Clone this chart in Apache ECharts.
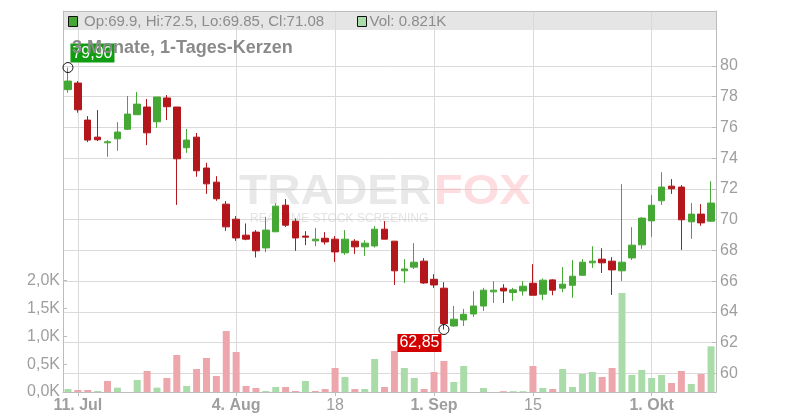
<!DOCTYPE html>
<html><head><meta charset="utf-8">
<script src="https://cdn.jsdelivr.net/npm/echarts@6/dist/echarts.min.js"></script>
<style>html,body{margin:0;padding:0;background:#fff}#c{width:800px;height:420px}</style>
</head><body><div id="c"></div>
<script>
const dates = ['2025-07-10','2025-07-11','2025-07-14','2025-07-15','2025-07-16','2025-07-17','2025-07-18','2025-07-21','2025-07-22','2025-07-23','2025-07-24','2025-07-25','2025-07-28','2025-07-29','2025-07-30','2025-07-31','2025-08-01','2025-08-04','2025-08-05','2025-08-06','2025-08-07','2025-08-08','2025-08-11','2025-08-12','2025-08-13','2025-08-14','2025-08-15','2025-08-18','2025-08-19','2025-08-20','2025-08-21','2025-08-22','2025-08-25','2025-08-26','2025-08-27','2025-08-28','2025-08-29','2025-09-01','2025-09-02','2025-09-03','2025-09-04','2025-09-05','2025-09-08','2025-09-09','2025-09-10','2025-09-11','2025-09-12','2025-09-15','2025-09-16','2025-09-17','2025-09-18','2025-09-19','2025-09-22','2025-09-23','2025-09-24','2025-09-25','2025-09-26','2025-09-29','2025-09-30','2025-10-01','2025-10-02','2025-10-03','2025-10-06','2025-10-07','2025-10-08','2025-10-09'];
const opens = [78.46,78.89,76.48,75.37,75.00,75.26,75.88,76.83,77.33,76.37,77.92,77.33,74.68,75.37,73.36,72.44,71.01,70.03,68.99,69.19,68.16,69.21,70.94,69.90,68.93,68.62,68.79,68.73,67.84,68.60,68.23,68.29,69.38,68.60,66.67,66.91,67.30,66.12,65.54,63.08,63.47,63.86,64.38,65.30,65.54,65.26,65.36,65.86,65.15,66.08,65.54,65.73,66.38,67.19,67.43,67.30,66.67,67.51,68.36,69.92,71.23,72.18,72.12,69.86,70.36,69.90];
const closes = [79.02,77.15,75.18,75.20,75.07,75.70,76.87,77.52,75.65,77.98,77.35,73.96,75.18,73.18,72.33,71.36,69.53,68.81,68.73,67.97,69.32,70.88,69.64,68.81,68.86,68.73,68.55,67.90,68.73,68.23,68.47,69.38,68.73,66.67,66.79,67.23,65.88,65.75,63.24,63.52,63.84,64.38,65.41,65.41,65.36,65.43,65.67,65.08,66.06,65.41,65.80,66.32,67.23,67.30,67.19,66.73,67.23,68.34,70.10,70.94,72.12,72.01,69.99,70.36,69.79,71.08];
const lows = [78.26,76.96,75.05,75.11,74.09,74.48,75.83,76.83,74.85,75.98,76.48,70.96,74.35,72.79,71.68,71.23,69.27,68.62,68.66,67.54,67.88,69.21,69.53,67.97,68.34,68.27,68.38,67.25,67.71,67.77,67.64,68.19,68.73,65.75,65.88,66.79,65.82,65.56,62.85,63.02,63.08,63.67,64.06,64.58,64.58,64.71,65.06,65.08,64.76,65.08,65.28,64.91,66.38,66.86,66.53,65.10,66.01,67.38,68.10,68.88,70.96,71.68,68.03,68.75,69.60,69.85];
const highs = [79.90,79.02,76.74,77.13,75.18,76.35,78.05,78.31,77.85,77.98,78.11,77.33,75.90,75.64,73.70,72.83,71.21,70.23,69.75,69.32,70.18,71.06,71.34,70.08,69.25,69.45,69.19,68.93,69.32,68.73,68.66,69.58,69.90,68.60,67.43,68.47,67.49,66.45,65.93,64.38,64.19,65.34,65.56,65.99,65.80,65.56,65.99,67.10,66.17,66.12,66.91,67.36,67.43,68.27,68.14,67.56,72.31,69.51,70.16,71.60,73.09,72.64,72.25,71.08,71.01,72.50];
const volumes = [54,36,36,18,198,78,0,216,377,78,252,665,108,413,611,288,1096,719,108,72,18,90,90,18,198,18,54,431,270,54,54,593,90,737,431,252,54,359,557,180,467,0,72,0,15,15,15,467,72,54,413,90,323,359,270,431,1779,305,395,252,305,162,377,144,323,821];
const tickDates = ['2025-07-11','2025-08-04','2025-08-18','2025-09-01','2025-09-15','2025-10-01'];
const tickLabels = ['11. Jul','4. Aug','18','1. Sep','15','1. Okt'];
const tickBold = [true,true,false,true,false,true];
const priceTicks = {min:60, max:80, step:2};
const volTicks = {min:0, max:2000, step:500};
const headerOHLC = 'Op:69.9, Hi:72.5, Lo:69.85, Cl:71.08';
const headerVol = 'Vol: 0.821K';
const titleText = '3 Monate, 1-Tages-Kerzen';
const maxLabel = '79,90', minLabel = '62,85';

const FONT = "'Liberation Sans', Arial, sans-serif";
const upC = '#46a834', downC = '#b3161b', volUp = '#aadcaa', volDown = '#eea6ad';
const gridC = '#dadada', axisC = '#bdbdbd', txtC = '#9e9e9e';
const L = 63, R = 84;

const candleData = dates.map((d, i) => [opens[i], closes[i], lows[i], highs[i]]);
const volData = volumes.map((v, i) => ({
  value: v,
  itemStyle: { color: (i === 0 || closes[i] >= closes[i - 1]) ? volUp : volDown }
}));
let maxI = 0, minI = 0;
highs.forEach((h, i) => { if (h > highs[maxI]) maxI = i; });
lows.forEach((l, i) => { if (l < lows[minI]) minI = i; });
const isTick = (idx, val) => tickDates.indexOf(val) >= 0;

const chart = echarts.init(document.getElementById('c'));
chart.setOption({
  animation: false,
  backgroundColor: '#fff',
  textStyle: { fontFamily: FONT },
  title: {
    text: titleText, left: 72, top: 39, padding: 0,
    textStyle: { fontSize: 18, fontWeight: 'bold', color: '#8a8a8a', fontFamily: FONT }
  },
  grid: [
    { left: L, right: R, top: 11, bottom: 28 },
    { left: L, right: R, top: 66, bottom: 46.7 },
    { left: L, right: R, top: 280.7, bottom: 28 }
  ],
  xAxis: [
    {
      gridIndex: 0, type: 'category', data: dates, boundaryGap: true,
      axisLine: { show: true, lineStyle: { color: axisC } },
      axisTick: { show: true, alignWithLabel: true, interval: isTick, length: 4, lineStyle: { color: axisC } },
      axisLabel: {
        interval: isTick, margin: 6, color: txtC, fontSize: 16, fontFamily: FONT,
        formatter: (v) => {
          const k = tickDates.indexOf(v);
          if (k < 0) return '';
          return tickBold[k] ? '{b|' + tickLabels[k] + '}' : '{n|' + tickLabels[k] + '}';
        },
        rich: {
          b: { fontWeight: 'bold', fontSize: 16, color: txtC, fontFamily: FONT },
          n: { fontWeight: 'normal', fontSize: 16, color: txtC, fontFamily: FONT }
        }
      },
      splitLine: { show: true, interval: isTick, alignWithLabel: true, lineStyle: { color: gridC, width: 1 } }
    },
    { gridIndex: 1, type: 'category', data: dates, boundaryGap: true, show: false },
    { gridIndex: 2, type: 'category', data: dates, boundaryGap: true, show: false }
  ],
  yAxis: [
    { gridIndex: 0, type: 'value', position: 'left', min: 0, max: 1,
      axisLine: { show: true, lineStyle: { color: axisC } }, axisTick: { show: false }, axisLabel: { show: false }, splitLine: { show: false } },
    { gridIndex: 0, type: 'value', position: 'right', min: 0, max: 1,
      axisLine: { show: true, lineStyle: { color: axisC } }, axisTick: { show: false }, axisLabel: { show: false }, splitLine: { show: false } },
    { gridIndex: 1, type: 'value', position: 'right', min: priceTicks.min, max: priceTicks.max, interval: priceTicks.step,
      axisLine: { show: false },
      axisTick: { show: true, inside: true, length: 4, lineStyle: { color: axisC } },
      axisLabel: { margin: 4, color: txtC, fontSize: 16, fontFamily: FONT },
      splitLine: { show: true, lineStyle: { color: gridC, width: 1 } } },
    { gridIndex: 2, type: 'value', position: 'left', min: volTicks.min, max: volTicks.max, interval: volTicks.step,
      axisLine: { show: false },
      axisTick: { show: true, inside: true, length: 4, lineStyle: { color: axisC } },
      axisLabel: { margin: 3, color: txtC, fontSize: 16, fontFamily: FONT,
        formatter: (v) => (v / 1000).toFixed(1).replace('.', ',') + 'K' },
      splitLine: { show: false } }
  ],
  graphic: [
    { type: 'rect', z: -5, shape: { x: L, y: 11, width: 800 - L - R, height: 19 },
      style: { fill: '#e5e5e5', stroke: null } },
    { type: 'line', z: 10, shape: { x1: L, y1: 11.5, x2: 800 - R, y2: 11.5 }, style: { stroke: axisC, lineWidth: 1 } },
    { type: 'rect', z: 10, shape: { x: 68.5, y: 16.5, width: 9, height: 10 }, style: { fill: upC, stroke: '#111', lineWidth: 1 } },
    { type: 'text', z: 10, x: 84, y: 22, style: { text: headerOHLC, font: '15px ' + FONT, fill: '#8c8c8c', verticalAlign: 'middle' } },
    { type: 'rect', z: 10, shape: { x: 357.5, y: 16.5, width: 9, height: 10 }, style: { fill: volUp, stroke: '#111', lineWidth: 1 } },
    { type: 'text', z: 10, x: 369.5, y: 22, style: { text: headerVol, font: '15px ' + FONT, fill: '#8c8c8c', verticalAlign: 'middle' } },
    { type: 'text', z: 1, x: 239, y: 192, scaleX: 1.1, style: { text: 'TRADER', font: 'bold 42px ' + FONT, fill: 'rgba(200,200,200,0.42)', verticalAlign: 'middle' } },
    { type: 'text', z: 1, x: 434, y: 192, scaleX: 1.12, style: { text: 'FOX', font: 'bold 42px ' + FONT, fill: 'rgba(250,170,175,0.4)', verticalAlign: 'middle' } },
    { type: 'text', z: 1, x: 250, y: 219, style: { text: 'REALTIME STOCK SCREENING', font: '12px ' + FONT, fill: 'rgba(200,200,200,0.5)', verticalAlign: 'middle' } }
  ],
  series: [
    {
      type: 'candlestick', xAxisIndex: 1, yAxisIndex: 2, data: candleData, barWidth: 7, z: 3,
      itemStyle: { color: upC, color0: downC, borderColor: upC, borderColor0: downC, borderWidth: 1 },
      markPoint: {
        symbol: 'circle', symbolSize: 10,
        itemStyle: { color: 'rgba(0,0,0,0)', borderColor: '#111', borderWidth: 1 },
        data: [
          { coord: [maxI, highs[maxI]],
            label: { show: true, formatter: maxLabel, position: [8, -18.5], color: '#fff', fontSize: 16, fontFamily: FONT,
              backgroundColor: '#119d11', padding: [2, 2, 1, 2], lineHeight: 16 } },
          { coord: [minI, lows[minI]],
            label: { show: true, formatter: minLabel, position: [-41, 10], color: '#fff', fontSize: 16, fontFamily: FONT,
              backgroundColor: '#d20000', padding: [1, 2, 1, 2], lineHeight: 16 } }
        ]
      }
    },
    {
      type: 'bar', xAxisIndex: 2, yAxisIndex: 3, data: volData, barWidth: 7, z: 2
    }
  ]
});
</script>
</body></html>
